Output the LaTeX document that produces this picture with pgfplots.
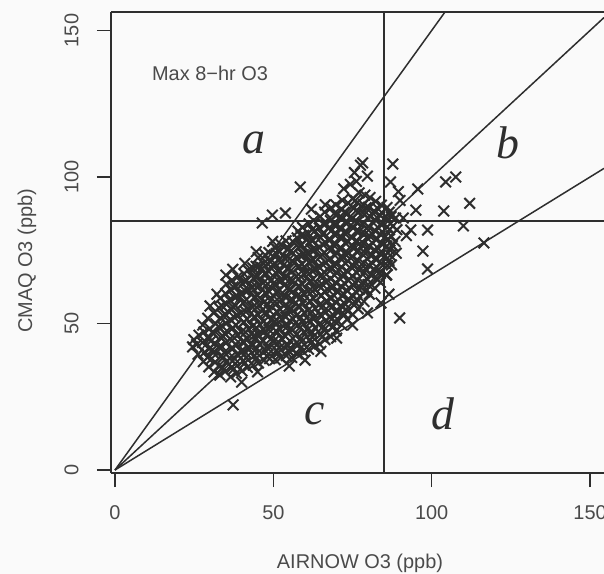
\documentclass[border=0pt]{standalone}
\usepackage{fontspec}
\setmainfont{Liberation Sans}
\newfontfamily\serifit{Liberation Serif}
\usepackage{pgfplots}
\pgfplotsset{compat=1.18}
\definecolor{ink}{HTML}{2E2E2E}
\definecolor{txt}{HTML}{4A4A4A}
\definecolor{bg}{HTML}{FAFAFA}

\pgfplotstableread{
x y
24.5 42
24.9 44.5
26.2 39.5
25.8 42.8
26.5 46
27.9 37
28.3 40.2
27.6 43.5
28.1 47.1
27.7 49.5
29.6 35.2
29.2 38.4
30.0 41.6
29.5 44.9
29.9 48.3
29.3 51.8
31.3 33.5
31.7 36.8
31.0 40
31.5 43.3
31.1 46.5
31.8 49.9
31.2 53.6
33.1 32.4
32.7 35.5
33.4 38.7
32.9 42
33.5 45.2
33.0 48.6
33.3 51.9
32.8 55.4
33.2 58.6
34.8 33.6
35.2 36.9
34.5 40.1
35.0 43.4
34.6 46.7
35.1 50
34.7 53.3
35.3 56.6
34.9 60.2
35.2 63.5
36.5 31.8
36.9 35
36.2 38.2
36.7 41.5
36.3 44.8
36.8 48.1
36.4 51.4
36.9 54.7
36.1 58
36.6 61.4
36.9 64.8
38.3 33
37.9 36.3
38.6 39.6
38.1 42.9
38.7 46.2
38.2 49.5
38.5 52.8
38.0 56.1
38.6 59.4
38.2 62.7
38.8 66
40.1 33.8
40.5 37.2
39.8 40.5
40.3 43.8
39.9 47.1
40.6 50.4
40.0 53.7
40.4 57
39.8 60.3
40.3 63.6
40.7 67
41.8 35
41.4 38.3
42.1 41.6
41.6 44.9
42.2 48.2
41.7 51.5
42.0 54.8
41.5 58.1
42.1 61.4
41.6 64.7
42.0 68.2
43.6 35.8
44.0 39.1
43.3 42.4
43.8 45.7
43.4 49
44.0 52.3
43.5 55.6
43.9 58.9
43.3 62.2
43.8 65.5
43.5 69
45.3 36.5
44.9 39.8
45.6 43.1
45.1 46.4
45.7 49.7
45.2 53
45.5 56.3
45.0 59.6
45.6 62.9
45.1 66.2
45.6 69.6
45.2 72.5
47.1 37.4
47.5 40.7
46.8 44
47.3 47.3
46.9 50.6
47.5 53.9
47.0 57.2
47.4 60.5
46.8 63.8
47.3 67.1
46.9 70.4
47.4 73.4
48.8 38
48.4 41.3
49.1 44.6
48.6 47.9
49.2 51.2
48.7 54.5
49.0 57.8
48.5 61.1
49.1 64.4
48.6 67.7
49.0 71
48.6 74.2
50.6 37.6
51.0 40.9
50.3 44.2
50.8 47.5
50.4 50.8
51.0 54.1
50.5 57.4
50.9 60.7
50.3 64
50.8 67.3
50.4 70.6
50.9 73.9
50.5 76
52.3 38.3
51.9 41.6
52.6 44.9
52.1 48.2
52.7 51.5
52.2 54.8
52.5 58.1
52.0 61.4
52.6 64.7
52.1 68
52.5 71.3
52.0 74.6
52.4 77
54.1 39
54.5 42.3
53.8 45.6
54.3 48.9
53.9 52.2
54.5 55.5
54.0 58.8
54.4 62.1
53.8 65.4
54.3 68.7
53.9 72
54.4 75.3
54.0 78.2
55.8 38.4
55.4 41.7
56.1 45
55.6 48.3
56.2 51.6
55.7 54.9
56.0 58.2
55.5 61.5
56.1 64.8
55.6 68.1
56.0 71.4
55.5 74.7
56.1 78
57.6 39.6
58.0 42.9
57.3 46.2
57.8 49.5
57.4 52.8
58.0 56.1
57.5 59.4
57.9 62.7
57.3 66
57.8 69.3
57.4 72.6
57.9 75.9
57.5 79.2
57.8 81.5
59.3 40.5
58.9 43.8
59.6 47.1
59.1 50.4
59.7 53.7
59.2 57
59.5 60.3
59.0 63.6
59.6 66.9
59.1 70.2
59.5 73.5
59.0 76.8
59.6 80.1
59.2 82.8
61.1 41.2
61.5 44.5
60.8 47.8
61.3 51.1
60.9 54.4
61.5 57.7
61.0 61
61.4 64.3
60.8 67.6
61.3 70.9
60.9 74.2
61.4 77.5
61.0 80.8
61.3 84
62.8 42
62.4 45.3
63.1 48.6
62.6 51.9
63.2 55.2
62.7 58.5
63.0 61.8
62.5 65.1
63.1 68.4
62.6 71.7
63.0 75
62.5 78.3
63.1 81.6
62.7 85.2
64.6 43
65.0 46.3
64.3 49.6
64.8 52.9
64.4 56.2
65.0 59.5
64.5 62.8
64.9 66.1
64.3 69.4
64.8 72.7
64.4 76
64.9 79.3
64.5 82.6
64.8 86.5
66.3 44.5
65.9 47.8
66.6 51.1
66.1 54.4
66.7 57.7
66.2 61
66.5 64.3
66.0 67.6
66.6 70.9
66.1 74.2
66.5 77.5
66.0 80.8
66.6 84.1
66.2 88
68.1 45.5
68.5 48.8
67.8 52.1
68.3 55.4
67.9 58.7
68.5 62
68.0 65.3
68.4 68.6
67.8 71.9
68.3 75.2
67.9 78.5
68.4 81.8
68.0 85.1
68.3 89.5
69.8 47.5
69.4 50.8
70.1 54.1
69.6 57.4
70.2 60.7
69.7 64
70.0 67.3
69.5 70.6
70.1 73.9
69.6 77.2
70.0 80.5
69.5 83.8
70.1 87.1
69.7 90.5
71.6 49.5
72.0 52.8
71.3 56.1
71.8 59.4
71.4 62.7
72.0 66
71.5 69.3
71.9 72.6
71.3 75.9
71.8 79.2
71.4 82.5
71.9 85.8
71.5 89.1
71.8 92
73.3 51.5
72.9 54.8
73.6 58.1
73.1 61.4
73.7 64.7
73.2 68
73.5 71.3
73.0 74.6
73.6 77.9
73.1 81.2
73.5 84.5
73.0 87.8
73.6 91.1
75.1 53
75.5 56.3
74.8 59.6
75.3 62.9
74.9 66.2
75.5 69.5
75.0 72.8
75.4 76.1
74.8 79.4
75.3 82.7
74.9 86
75.4 89.3
75.0 92.6
76.8 55
76.4 58.3
77.1 61.6
76.6 64.9
77.2 68.2
76.7 71.5
77.0 74.8
76.5 78.1
77.1 81.4
76.6 84.7
77.0 88
76.5 91.3
77.1 94.6
78.6 57.5
79.0 60.8
78.3 64.1
78.8 67.4
78.4 70.7
79.0 74
78.5 77.3
78.9 80.6
78.3 83.9
78.8 87.2
78.4 90.5
78.9 93.8
80.3 60
79.9 63.3
80.6 66.6
80.1 69.9
80.7 73.2
80.2 76.5
80.5 79.8
80.0 83.1
80.6 86.4
80.1 89.7
80.5 93
82.1 62
82.5 65.3
81.8 68.6
82.3 71.9
81.9 75.2
82.5 78.5
82.0 81.8
82.4 85.1
81.8 88.4
82.3 91.7
83.8 64
83.4 67.3
84.1 70.6
83.6 73.9
84.2 77.2
83.7 80.5
84.0 83.8
83.5 87.1
84.1 90.4
85.6 66.5
86.0 69.8
85.3 73.1
85.8 76.4
85.4 79.7
86.0 83
85.5 86.3
85.9 89.6
87.3 70
86.9 73.3
87.6 76.6
87.1 79.9
87.7 83.2
87.2 86.5
88.8 74
88.4 78
89.0 82
88.6 86
30.0 56
32.2 60
35.0 66.5
37.2 68.5
41.0 70.5
44.6 74.5
49.8 78
46.5 84.3
49.7 87
53.8 87.7
58.5 96.6
62.0 89
66.4 90.5
72.2 96
74.3 97.5
77.5 104
78.2 104.8
79.7 100.3
75.6 101.5
76.2 98.5
87.7 104.4
87.0 98.3
95.6 95.9
104.4 98.3
107.6 100
112.0 91
103.8 88.4
110.0 83.3
97.2 74.7
98.7 68.6
116.5 77.5
89.9 51.9
93.4 81.9
98.7 81.9
95.0 88.7
85.8 66.6
90.0 92
91.0 86
92.0 80
89.5 95
37.3 22.2
40.0 30
45.0 33.5
55.0 35.5
60.0 37.5
65.0 40.5
70.0 45
75.0 49.5
79.7 53.6
84.0 57
86.5 60
30.5 38
30.8 41
30.3 44
30.7 47
34.0 35
34.3 38.5
33.8 42
34.2 45.5
33.9 49
34.3 52.5
33.8 56
37.5 34.5
37.8 38
37.3 41.5
37.7 45
37.2 48.5
37.8 52
37.4 55.5
37.7 59
37.3 62.5
41.0 36.5
41.3 40
40.8 43.5
41.2 47
40.7 50.5
41.3 54
40.9 57.5
41.2 61
40.8 64.5
44.5 38
44.8 41.5
44.3 45
44.7 48.5
44.2 52
44.8 55.5
44.4 59
44.7 62.5
44.3 66
44.6 69.5
48.0 39
48.3 42.5
47.8 46
48.2 49.5
47.7 53
48.3 56.5
47.9 60
48.2 63.5
47.8 67
48.1 70.5
51.5 40
51.8 43.5
51.3 47
51.7 50.5
51.2 54
51.8 57.5
51.4 61
51.7 64.5
51.3 68
51.6 71.5
51.4 75
55.0 40.5
55.3 44
54.8 47.5
55.2 51
54.7 54.5
55.3 58
54.9 61.5
55.2 65
54.8 68.5
55.1 72
54.9 75.5
58.5 41.5
58.8 45
58.3 48.5
58.7 52
58.2 55.5
58.8 59
58.4 62.5
58.7 66
58.3 69.5
58.6 73
58.4 76.5
58.7 80
62.0 43.5
62.3 47
61.8 50.5
62.2 54
61.7 57.5
62.3 61
61.9 64.5
62.2 68
61.8 71.5
62.1 75
61.9 78.5
62.2 82
65.5 45.5
65.8 49
65.3 52.5
65.7 56
65.2 59.5
65.8 63
65.4 66.5
65.7 70
65.3 73.5
65.6 77
65.4 80.5
65.7 84
69.0 49
69.3 52.5
68.8 56
69.2 59.5
68.7 63
69.3 66.5
68.9 70
69.2 73.5
68.8 77
69.1 80.5
68.9 84
69.2 87.5
72.5 53
72.8 56.5
72.3 60
72.7 63.5
72.2 67
72.8 70.5
72.4 74
72.7 77.5
72.3 81
72.6 84.5
72.4 88
76.0 57
76.3 60.5
75.8 64
76.2 67.5
75.7 71
76.3 74.5
75.9 78
76.2 81.5
75.8 85
76.1 88.5
75.9 92
79.5 61.5
79.8 65
79.3 68.5
79.7 72
79.2 75.5
79.8 79
79.4 82.5
79.7 86
79.3 89.5
83.0 65
83.3 68.5
82.8 72
83.2 75.5
82.7 79
83.3 82.5
82.9 86
83.2 89
86.5 71.5
86.8 75
86.3 78.5
86.7 82
86.2 85
86.6 88
}\ozone

\begin{document}
\begin{tikzpicture}
\fill[bg] (-111bp,-101bp) rectangle (493bp,473bp);
\begin{axis}[
  at={(0,0)}, anchor=south west,
  scale only axis, width=493bp, height=461bp,
  xmin=-1.26, xmax=154.4, ymin=-1.02, ymax=156.3,
  clip=false,
  axis x line*=bottom, axis y line*=left,
  x axis line style={-}, y axis line style={-},
  axis line style={ink, line width=1.3bp},
  xtick={0,50,100,150}, ytick={0,50,100,150},
  tick align=outside, major tick length=14bp,
  tick style={ink, line width=1.3bp},
  ticklabel style={font=\fontsize{20}{24}\selectfont, text=txt},
  /pgf/number format/assume math mode=true,
  xticklabel style={yshift=-15bp},
  yticklabel style={rotate=90, anchor=south, yshift=15bp},
  xlabel={AIRNOW O3 (ppb)}, ylabel={CMAQ O3 (ppb)},
  label style={font=\fontsize{20}{24}\selectfont, text=txt},
  xlabel style={at={(rel axis cs:0.505,0)}, anchor=center, yshift=-90bp},
  ylabel style={at={(axis description cs:-0.1704,0.46)}, anchor=center},
]
\addplot[only marks, mark=x, mark size=7.5bp, mark options={ink, line width=2bp}] table[x=x, y=y] {\ozone};
\addplot[ink, line width=1.5bp] coordinates {(0,0) (104.2,156.3)};
\addplot[ink, line width=1.5bp] coordinates {(0,0) (154.4,154.4)};
\addplot[ink, line width=1.5bp] coordinates {(0,0) (154.4,102.93)};
\addplot[ink, line width=1.5bp] coordinates {(85,-1.02) (85,156.3)};
\addplot[ink, line width=1.5bp] coordinates {(-1.26,85) (154.4,85)};
\draw[ink, line width=1.3bp] (rel axis cs:0,1) -- (rel axis cs:1,1);
\node[text=txt, font=\fontsize{20}{24}\selectfont] at (axis cs:30,135.5) {Max 8−hr O3};
\node[text=ink, font=\serifit\itshape\fontsize{46}{50}\selectfont] at (axis cs:44,111.5) {a};
\node[text=ink, font=\serifit\itshape\fontsize{46}{50}\selectfont] at (axis cs:124,111.5) {b};
\node[text=ink, font=\serifit\itshape\fontsize{46}{50}\selectfont] at (axis cs:63,19) {c};
\node[text=ink, font=\serifit\itshape\fontsize{46}{50}\selectfont] at (axis cs:103.5,19) {d};
\end{axis}
\pgfresetboundingbox
\path (-111bp,-101bp) rectangle (493bp,473bp);
\end{tikzpicture}
\end{document}
